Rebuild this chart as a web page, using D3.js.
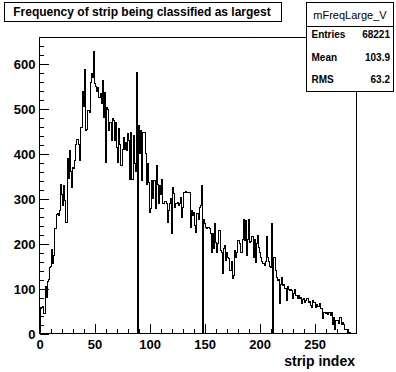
<!DOCTYPE html>
<html>
<head>
<meta charset="utf-8">
<script src="https://cdn.jsdelivr.net/npm/d3@7"></script>
<style>
  html, body { margin: 0; padding: 0; background: #fff; }
  svg { display: block; }
  text { font-family: "Liberation Sans", Arial, Helvetica, sans-serif; }
</style>
</head>
<body>
<div id="chart"></div>
<script>
// ---- data ----
const chartTitle = "Frequency of strip being classified as largest";
const histName = "mFreqLarge_V";
const statLabels = ["Entries", "Mean", "RMS"];
const statValues = ["68221", "103.9", "63.2"];
const xAxisTitle = "strip index";
const xMin = 0, xMax = 288;
const yMax = 659.4;
const xMajorTicks = [0, 50, 100, 150, 200, 250];
const yMajorTicks = [0, 100, 200, 300, 400, 500, 600];
// bin contents for strips 0..287
const counts = [
  20, 55, 58, 60, 44, 105, 80, 115, 120, 148,
  150, 188, 155, 173, 233, 265, 268, 262, 275, 333,
  310, 285, 330, 296, 248, 390, 345, 408, 360, 326,
  370, 368, 385, 420, 432, 420, 385, 458, 458, 540,
  505, 588, 452, 455, 497, 492, 560, 580, 570, 628,
  556, 550, 540, 548, 525, 535, 512, 563, 482, 537,
  382, 504, 500, 452, 470, 430, 478, 475, 430, 470,
  415, 382, 456, 420, 374, 410, 437, 410, 425, 408,
  445, 430, 344, 448, 344, 440, 378, 360, 582, 0,
  463, 400, 452, 340, 448, 448, 400, 333, 378, 337,
  270, 278, 340, 300, 340, 278, 374, 333, 290, 330,
  310, 344, 290, 289, 295, 290, 248, 274, 290, 300,
  222, 326, 311, 281, 289, 292, 285, 290, 303, 259,
  280, 315, 315, 316, 314, 315, 315, 237, 274, 263,
  270, 240, 226, 267, 255, 281, 285, 330, 0, 255,
  244, 237, 233, 236, 233, 222, 181, 222, 190, 244,
  203, 181, 200, 229, 185, 181, 133, 190, 196, 163,
  180, 170, 166, 140, 160, 122, 130, 185, 170, 180,
  207, 207, 200, 181, 210, 255, 207, 252, 174, 210,
  255, 203, 205, 215, 170, 210, 159, 200, 218, 192,
  180, 170, 160, 155, 151, 160, 215, 170, 160, 150,
  148, 244, 0, 170, 140, 125, 118, 120, 66, 110,
  125, 107, 110, 100, 73, 105, 99, 96, 99, 96,
  77, 90, 99, 85, 77, 85, 77, 80, 66, 75,
  77, 70, 74, 77, 70, 72, 63, 59, 73, 68,
  70, 59, 64, 60, 66, 55, 55, 33, 47, 47,
  45, 47, 42, 47, 40, 47, 20, 35, 10, 30,
  29, 29, 22, 36, 21, 25, 20, 10, 10, 8,
  3, 3, 2, 0, 0, 0, 0, 0
];

// ---- layout ----
const W = 396, H = 372;
const svg = d3.select("#chart").append("svg")
  .attr("width", W).attr("height", H)
  .style("background", "#fff");

const x = d3.scaleLinear().domain([xMin, xMax]).range([39.5, 356.5]);
const y = d3.scaleLinear().domain([0, yMax]).range([333.5, 37.5]);

// histogram outline
const pts = [[x(0), y(0)]];
counts.forEach((v, i) => {
  pts.push([x(i), y(v)]);
  pts.push([x(i + 1), y(v)]);
});
pts.push([x(counts.length), y(0)]);
svg.append("path")
  .attr("d", d3.line()(pts))
  .attr("fill", "none")
  .attr("stroke", "#000")
  .attr("stroke-width", 1)
  .attr("shape-rendering", "crispEdges");

// axes
const minorX = d3.range(0, xMax + 0.1, 10).filter(t => !xMajorTicks.includes(t));
const minorY = d3.range(0, yMax, 20).filter(t => !yMajorTicks.includes(t));

const gx = svg.append("g").attr("transform", `translate(0,${y(0)})`)
  .call(d3.axisBottom(x).tickValues(xMajorTicks).tickSizeInner(-9.5).tickSizeOuter(0).tickPadding(5).tickFormat(d3.format("d")));
const gxm = svg.append("g").attr("transform", `translate(0,${y(0)})`)
  .call(d3.axisBottom(x).tickValues(minorX).tickSizeInner(-4.8).tickSizeOuter(0).tickFormat(""));
const gy = svg.append("g").attr("transform", `translate(${x(0)},0)`)
  .call(d3.axisLeft(y).tickValues(yMajorTicks).tickSizeInner(-9).tickSizeOuter(0).tickPadding(4).tickFormat(d3.format("d")));
const gym = svg.append("g").attr("transform", `translate(${x(0)},0)`)
  .call(d3.axisLeft(y).tickValues(minorY).tickSizeInner(-4.5).tickSizeOuter(0).tickFormat(""));

[gx, gxm, gy, gym].forEach(g => {
  g.select(".domain").remove();
  g.selectAll("line").attr("stroke", "#000").attr("shape-rendering", "crispEdges");
  g.selectAll("text").attr("fill", "#000").style("font-size", "13px").style("font-weight", "bold")
    .style("font-family", "'Liberation Sans', Arial, sans-serif");
});
gx.selectAll("text").attr("y", 6).attr("dy", "0.71em");
gy.selectAll("text").attr("dy", "0.36em");

// frame
svg.append("rect")
  .attr("x", x(xMin)).attr("y", y(yMax))
  .attr("width", x(xMax) - x(xMin)).attr("height", y(0) - y(yMax))
  .attr("fill", "none").attr("stroke", "#000").attr("shape-rendering", "crispEdges");

// x axis title
svg.append("text")
  .attr("x", 355).attr("y", 366)
  .attr("text-anchor", "end")
  .style("font-size", "14px").style("font-weight", "bold")
  .text(xAxisTitle);

// title box
const tb = svg.append("g");
tb.append("rect").attr("x", 4.5).attr("y", 2.5).attr("width", 277).attr("height", 19)
  .attr("fill", "#fff").attr("stroke", "#000").attr("shape-rendering", "crispEdges");
tb.append("text").attr("x", 142).attr("y", 16).attr("text-anchor", "middle")
  .style("font-size", "12px").style("font-weight", "bold").text(chartTitle);

// stats box
const sb = svg.append("g");
const sx0 = 306.5, sx1 = 393.5, sy0 = 2.5, sy1 = 91.5;
sb.append("rect").attr("x", sx0).attr("y", sy0).attr("width", sx1 - sx0).attr("height", sy1 - sy0)
  .attr("fill", "#fff").attr("stroke", "#000").attr("shape-rendering", "crispEdges");
sb.append("line").attr("x1", sx0).attr("x2", sx1).attr("y1", 26.5).attr("y2", 26.5)
  .attr("stroke", "#000").attr("shape-rendering", "crispEdges");
sb.append("text").attr("x", (sx0 + sx1) / 2).attr("y", 18.5).attr("text-anchor", "middle")
  .style("font-size", "11px").text(histName);
const rowY = [37.5, 60.5, 83];
statLabels.forEach((lab, i) => {
  sb.append("text").attr("x", 311.5).attr("y", rowY[i])
    .style("font-size", "10px").style("font-weight", "bold").text(lab);
  sb.append("text").attr("x", 390).attr("y", rowY[i]).attr("text-anchor", "end")
    .style("font-size", "10px").style("font-weight", "bold").text(statValues[i]);
});
</script>
</body>
</html>
